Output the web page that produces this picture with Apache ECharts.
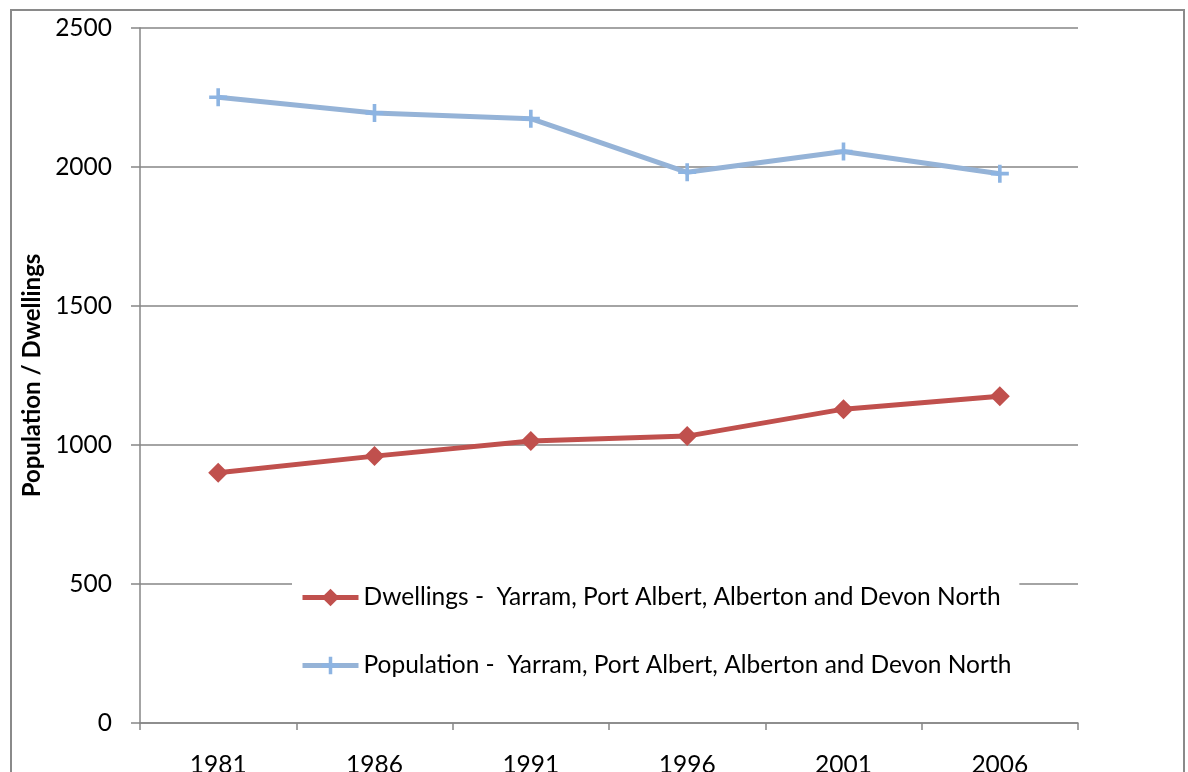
<!DOCTYPE html>
<html>
<head>
<meta charset="utf-8">
<script src="https://cdn.jsdelivr.net/npm/echarts@6/dist/echarts.min.js"></script>
<style>
  html, body { margin: 0; padding: 0; background: #fff; }
  #chart { width: 1188px; height: 772px; }
</style>
</head>
<body>
<div id="chart"></div>
<script>
// Census years
const years = ['1981', '1986', '1991', '1996', '2001', '2006'];
// Private dwellings, Yarram district
const dwellings = [900, 960, 1014, 1032, 1129, 1175];
// Resident population, Yarram district
const population = [2251, 2194, 2174, 1981, 2056, 1976];
// Value axis ticks
const yMin = 0, yMax = 2500, yStep = 500;

const dwellName = 'Dwellings -  Yarram, Port Albert, Alberton and Devon North';
const popName = 'Population -  Yarram, Port Albert, Alberton and Devon North';

const font = 'Lato, "Open Sans", sans-serif';
const gridGrey = '#868686';
const plusPath = 'path://M4,0H6V4H10V6H6V10H4V6H0V4H4Z';

const chart = echarts.init(document.getElementById('chart'));
chart.setOption({
  animation: false,
  backgroundColor: '#ffffff',
  graphic: [{
    type: 'rect',
    shape: { x: 11, y: 10, width: 1173, height: 800 },
    style: { fill: 'none', stroke: '#8a8a8a', lineWidth: 2 },
    silent: true,
    z: -1
  }],
  grid: { left: 140, top: 28, right: 110, bottom: 49, containLabel: false, outerBoundsMode: 'none' },
  legend: {
    orient: 'vertical',
    left: 292,
    top: 576,
    width: 735,
    itemGap: 43,
    itemWidth: 56,
    itemHeight: 22,
    padding: [9, 8, 12, 8],
    backgroundColor: '#ffffff',
    lineStyle: { width: 5 },
    textStyle: { fontFamily: font, fontSize: 24.5, color: '#000' },
    data: [dwellName, popName]
  },
  xAxis: {
    type: 'category',
    data: years,
    boundaryGap: true,
    axisLine: { lineStyle: { color: gridGrey, width: 1.5 } },
    axisTick: { show: true, length: 7, inside: false, interval: 0, lineStyle: { color: gridGrey, width: 1.5 } },
    axisLabel: { fontFamily: font, fontSize: 24.5, color: '#000', margin: 30 },
    splitLine: { show: false }
  },
  yAxis: {
    type: 'value',
    min: yMin,
    max: yMax,
    interval: yStep,
    name: 'Population / Dwellings',
    nameLocation: 'middle',
    nameGap: 95,
    nameTextStyle: { fontFamily: font, fontSize: 24, fontWeight: 'bold', color: '#000' },
    axisLine: { show: true, lineStyle: { color: gridGrey, width: 1.5 } },
    axisTick: { show: true, length: 9, lineStyle: { color: gridGrey, width: 1.5 } },
    axisLabel: { fontFamily: font, fontSize: 24.5, color: '#000', margin: 28, formatter: v => String(v) },
    splitLine: { show: true, lineStyle: { color: gridGrey, width: 1.5 } }
  },
  series: [
    {
      name: dwellName,
      type: 'line',
      data: dwellings,
      z: 3,
      lineStyle: { color: '#C0504D', width: 5 },
      itemStyle: { color: '#C0504D' },
      symbol: 'diamond',
      symbolSize: [20, 20],
      showAllSymbol: true
    },
    {
      name: popName,
      type: 'line',
      data: population,
      z: 3,
      lineStyle: { color: '#95B3D7', width: 5 },
      itemStyle: { color: '#8DB4E2' },
      symbol: plusPath,
      symbolSize: [18, 18],
      showAllSymbol: true
    }
  ]
});
</script>
</body>
</html>
